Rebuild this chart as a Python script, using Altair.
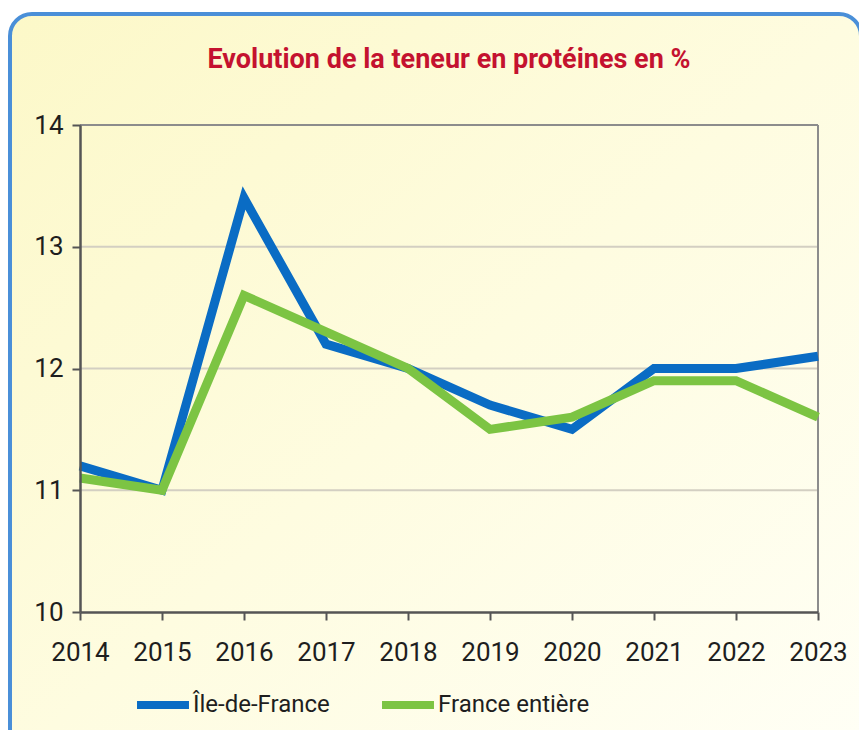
import altair as alt
import pandas as pd

years = [2014, 2015, 2016, 2017, 2018, 2019, 2020, 2021, 2022, 2023]
idf = [11.2, 11.0, 13.4, 12.2, 12.0, 11.7, 11.5, 12.0, 12.0, 12.1]
france = [11.1, 11.0, 12.6, 12.3, 12.0, 11.5, 11.6, 11.9, 11.9, 11.6]
series = ["Île-de-France", "France entière"]
colors = ["#0A6CC4", "#7CC443"]
grid_values = [11, 12, 13]
y_ticks = [10, 11, 12, 13, 14]

FONT = "Roboto, sans-serif"
W, H = 738, 487

df = pd.DataFrame({
    "annee": years * 2,
    "valeur": idf + france,
    "serie": [series[0]] * len(years) + [series[1]] * len(years),
})

xscale = alt.Scale(domain=[2014, 2023], nice=False, zero=False)
yscale = alt.Scale(domain=[10, 14], nice=False, zero=False)
cscale = alt.Scale(domain=series, range=colors)

xax = alt.Axis(
    values=years, format="d", title=None, grid=False,
    domainColor="#555555", domainWidth=2.5,
    tickColor="#555555", tickWidth=2, tickSize=8,
    labelFont=FONT, labelFontSize=26, labelColor="#1E1E1E",
    labelPadding=19, zindex=1, labelFlush=False,
)
yax = alt.Axis(
    values=y_ticks, title=None, grid=False,
    domainColor="#555555", domainWidth=2.5,
    tickColor="#555555", tickWidth=2, tickSize=8,
    labelFont=FONT, labelFontSize=26, labelColor="#1E1E1E",
    labelPadding=9, zindex=1,
)

# decorative rounded panel with gradient
panel = alt.Chart(pd.DataFrame({"d": [0]})).mark_rect(
    fill=alt.Gradient(
        gradient="linear",
        stops=[
            alt.GradientStop(color="#FCF8C8", offset=0),
            alt.GradientStop(color="#FEFCE0", offset=0.5),
            alt.GradientStop(color="#FFFFF6", offset=1),
        ],
        x1=0, y1=0, x2=1, y2=1,
    ),
    stroke="#4A8FD8",
    strokeWidth=4,
    cornerRadius=22,
    clip=False,
).encode(
    x=alt.value(-70), x2=alt.value(781),
    y=alt.value(-111), y2=alt.value(640),
)

grid = alt.Chart(pd.DataFrame({"valeur": grid_values})).mark_rule(
    color="#D3CFC2", strokeWidth=2
).encode(y=alt.Y("valeur:Q", scale=yscale, axis=yax))

top_border = alt.Chart(pd.DataFrame({"d": [0]})).mark_rule(
    color="#8C8C8C", strokeWidth=2
).encode(y=alt.datum(14, scale=yscale, axis=yax))

right_border = alt.Chart(pd.DataFrame({"d": [0]})).mark_rule(
    color="#8C8C8C", strokeWidth=2
).encode(x=alt.datum(2023, scale=xscale, axis=xax))


def line_layer(name):
    base = alt.Chart(df).transform_filter(alt.datum.serie == name).mark_line(
        strokeWidth=9, strokeJoin="miter", strokeCap="butt"
    )
    return base.encode(
        x=alt.X("annee:Q", scale=xscale, axis=xax),
        y=alt.Y("valeur:Q", scale=yscale, axis=yax),
        color=alt.Color(
            "serie:N", scale=cscale, sort=series,
            legend=alt.Legend(
                title=None, orient="none", legendX=53, legendY=550,
                direction="horizontal", symbolType="stroke",
                symbolStrokeWidth=8, symbolSize=2700,
                labelFont=FONT, labelFontSize=24, labelColor="#1E1E1E",
                labelOffset=0, columnPadding=36, labelLimit=400,
            ),
        ),
    )


chart = alt.layer(
    panel, grid, top_border, right_border,
    line_layer(series[0]), line_layer(series[1]),
).properties(
    width=W, height=H,
    title=alt.TitleParams(
        "Evolution de la teneur en protéines en %",
        font=FONT, fontSize=27, fontWeight="bold", color="#C4122F",
        anchor="middle", offset=0, dy=62,
    ),
    autosize=alt.AutoSizeParams(type="none"),
    padding={"left": 72, "top": 117, "right": 41, "bottom": 118},
).configure(
    background="white",
).configure_view(
    stroke=None,
)

chart.save("out.html", embed_options={"renderer": "svg", "actions": False})
